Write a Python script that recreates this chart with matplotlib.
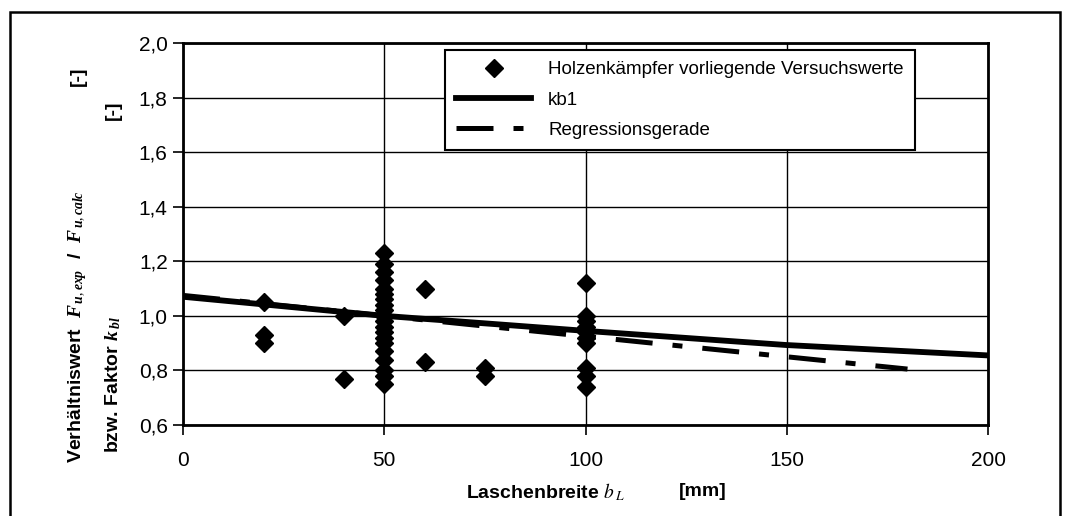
import numpy as np
import matplotlib.pyplot as plt
from matplotlib.patches import Rectangle

plt.rcParams['font.family'] = ['Liberation Sans', 'DejaVu Sans']
plt.rcParams['mathtext.fontset'] = 'custom'
plt.rcParams['mathtext.rm'] = 'Liberation Serif'
plt.rcParams['mathtext.it'] = 'Liberation Serif:italic:bold'
plt.rcParams['mathtext.bf'] = 'Liberation Serif:bold'

# Versuchswerte (Laschenbreite, Verhaeltniswert)
x_vers = [20, 20, 20, 40, 40,
          50, 50, 50, 50, 50, 50, 50, 50, 50, 50,
          50, 50, 50, 50, 50, 50, 50, 50, 50, 50,
          60, 60, 75, 75,
          100, 100, 100, 100, 100, 100, 100, 100, 100, 100]
y_vers = [1.05, 0.93, 0.90, 1.00, 0.77,
          1.23, 1.19, 1.16, 1.13, 1.10, 1.08, 1.06, 1.04, 1.02, 1.00,
          0.98, 0.96, 0.94, 0.92, 0.90, 0.87, 0.84, 0.80, 0.78, 0.75,
          1.10, 0.83, 0.81, 0.78,
          1.12, 1.00, 0.98, 0.96, 0.94, 0.92, 0.90, 0.81, 0.78, 0.74]

# kb1
x_kb1 = [0, 50, 100, 150, 200]
y_kb1 = [1.07, 1.00, 0.945, 0.893, 0.855]

# Regressionsgerade
x_reg = [0, 180]
y_reg = [1.075, 0.805]

yticks = [0.6, 0.8, 1.0, 1.2, 1.4, 1.6, 1.8, 2.0]
xticks = [0, 50, 100, 150, 200]

W, H = 1065, 516
fig = plt.figure(figsize=(W/100, H/100), dpi=100)
ax = fig.add_axes([183/W, 1-425/H, 805/W, 382/H])

def px(x, y):
    # pixel (von oben links) -> figure coords
    return x / W, 1 - y / H

ax.plot(x_vers, y_vers, 'D', color='black', ms=9, zorder=4,
        label='Holzenkämpfer vorliegende Versuchswerte')
ax.plot(x_kb1, y_kb1, '-', color='black', lw=4.2, zorder=3, label='kb1')
ax.plot(x_reg, y_reg, color='black', lw=3.6, zorder=3,
        linestyle=(0, (7.4, 4, 2, 4)), label='Regressionsgerade')

ax.set_xlim(0, 200)
ax.set_ylim(0.6, 2.0)
ax.set_xticks(xticks)
ax.set_yticks(yticks)
ax.set_yticklabels([f'{v:.1f}'.replace('.', ',') for v in yticks])
ax.grid(True, color='black', lw=1.0)
ax.set_axisbelow(True)
for s in ax.spines.values():
    s.set_linewidth(2)
ax.tick_params(direction='out', length=7, width=1.2, labelsize=15)
ax.tick_params(axis='x', pad=12)
ax.tick_params(axis='y', pad=4)

# Achsentitel als einzelne Textstuecke (Einheiten abgesetzt)
lab = dict(fontsize=14, fontweight='bold')
fig.text(*px(466, 492), 'Laschenbreite $b_{\\,L}$', ha='left', va='center',
         math_fontfamily='stix', **lab)
fig.text(*px(727, 492), '[mm]', ha='right', va='center', **lab)

fig.text(*px(78, 463), 'Verhältniswert  $F_{\\,u,exp}$  /  $F_{\\,u,calc}$',
         rotation=90, rotation_mode='anchor', ha='left', va='center', **lab)
fig.text(*px(78, 76), '[-]', rotation=90, ha='center', va='center', **lab)
fig.text(*px(113, 453), 'bzw. Faktor $k_{\\,bl}$',
         rotation=90, rotation_mode='anchor', ha='left', va='center', **lab)
fig.text(*px(113, 110), '[-]', rotation=90, ha='center', va='center', **lab)

leg = ax.legend(loc='upper left', bbox_to_anchor=(262/805, 1-7/382), borderaxespad=0,
                fontsize=13.5, frameon=True, fancybox=False, edgecolor='black',
                framealpha=1, handlelength=4.0, borderpad=0.6, labelspacing=0.7,
                handletextpad=0.9)
leg.get_frame().set_linewidth(1.5)

fig.patches.append(Rectangle((10/W, -0.05), 1050/W, 1.05 - 12/H,
                             transform=fig.transFigure, fill=False,
                             edgecolor='black', lw=1.8))

fig.savefig('out.png', dpi=100)
